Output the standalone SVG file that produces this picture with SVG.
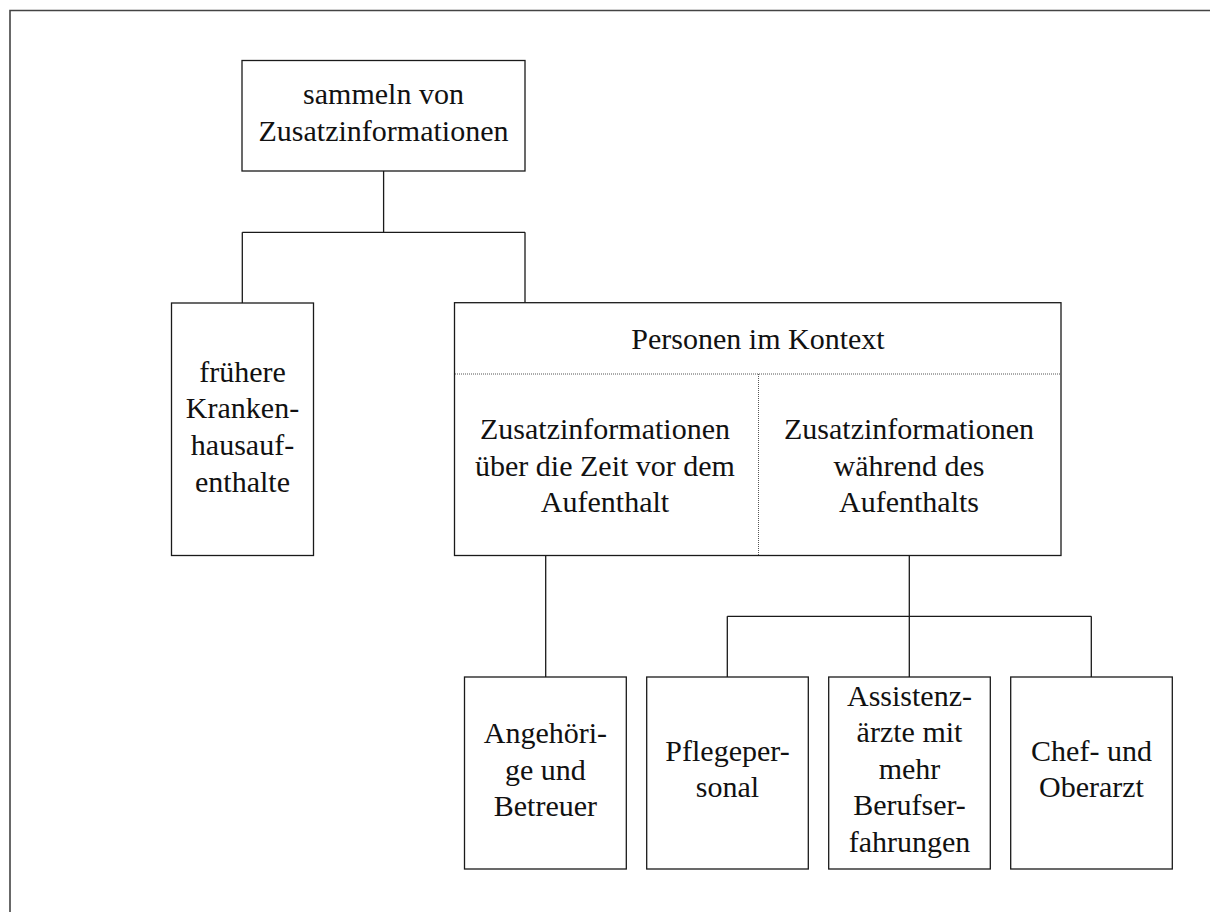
<svg xmlns="http://www.w3.org/2000/svg" width="1210" height="912" viewBox="0 0 1210 912">
  <style>
    .box { fill: #fff; stroke: #1a1a1a; stroke-width: 1.3; }
    .link { fill: none; stroke: #1a1a1a; stroke-width: 1.3; }
    .dots { fill: none; stroke: #555; stroke-width: 1; stroke-dasharray: 1 1; }
    .frame { fill: none; stroke: #444; stroke-width: 1.6; }
    text { font-family: "Liberation Serif", "Times New Roman", serif; font-size: 30px; fill: #111; text-anchor: middle; }
  </style>

  <!-- page frame (top and left edges) -->
  <path class="frame" d="M10 912 V10.5 H1210"/>

  <!-- connectors -->
  <g id="connectors">
    <path class="link" d="M383.6 171 V232.3 M242.3 232.3 H525 M242.3 232.3 V303 M525 232.3 V303"/>
    <path class="link" d="M545.7 555.5 V677"/>
    <path class="link" d="M909.3 555.5 V677 M727.3 616.3 H1091.3 M727.3 616.3 V677 M1091.3 616.3 V677"/>
  </g>

  <g id="root">
    <rect class="box" x="242" y="60.5" width="283" height="110.5"/>
    <text x="383.5" y="104">sammeln von</text>
    <text x="383.5" y="141">Zusatzinformationen</text>
  </g>

  <g id="fruehere">
    <rect class="box" x="171.5" y="303" width="142" height="252.5"/>
    <text x="242.5" y="381.7">frühere</text>
    <text x="242.5" y="418.4">Kranken-</text>
    <text x="242.5" y="455.1">hausauf-</text>
    <text x="242.5" y="491.8">enthalte</text>
  </g>

  <g id="personen">
    <rect class="box" x="454.5" y="302.7" width="606.5" height="252.8"/>
    <text x="758" y="349">Personen im Kontext</text>
    <path class="dots" d="M455 374 H1060.5 M758.5 374 V555"/>
    <g id="vor-aufenthalt">
      <text x="605" y="439.3">Zusatzinformationen</text>
      <text x="605" y="475.8">über die Zeit vor dem</text>
      <text x="605" y="512.3">Aufenthalt</text>
    </g>
    <g id="waehrend-aufenthalt">
      <text x="909" y="439.3">Zusatzinformationen</text>
      <text x="909" y="475.8">während des</text>
      <text x="909" y="512.3">Aufenthalts</text>
    </g>
  </g>

  <g id="angehoerige">
    <rect class="box" x="464.5" y="677" width="161.8" height="192"/>
    <text x="545.4" y="743.3">Angehöri-</text>
    <text x="545.4" y="779.8">ge und</text>
    <text x="545.4" y="816.3">Betreuer</text>
  </g>

  <g id="pflegepersonal">
    <rect class="box" x="646.7" y="677" width="161.6" height="192"/>
    <text x="727.5" y="760.7">Pflegeper-</text>
    <text x="727.5" y="797.2">sonal</text>
  </g>

  <g id="assistenzaerzte">
    <rect class="box" x="828.7" y="677" width="161.6" height="192"/>
    <text x="909.5" y="705.7">Assistenz-</text>
    <text x="909.5" y="742.2">ärzte mit</text>
    <text x="909.5" y="778.7">mehr</text>
    <text x="909.5" y="815.2">Berufser-</text>
    <text x="909.5" y="851.7">fahrungen</text>
  </g>

  <g id="chefarzt">
    <rect class="box" x="1010.7" y="677" width="161.6" height="192"/>
    <text x="1091.5" y="760.7">Chef- und</text>
    <text x="1091.5" y="797.2">Oberarzt</text>
  </g>
</svg>
